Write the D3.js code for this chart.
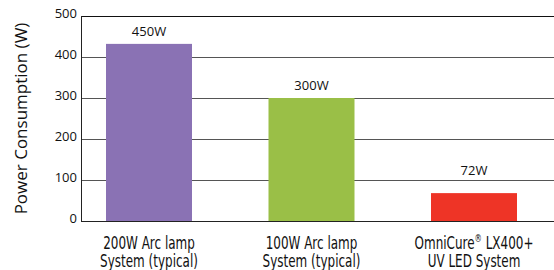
<!DOCTYPE html>
<html>
<head>
<meta charset="utf-8">
<script src="https://cdn.jsdelivr.net/npm/d3@7"></script>
<style>
  body { margin: 0; background: #fff; }
  svg { display: block; }
</style>
</head>
<body>
<div id="chart"></div>
<script>
// values
const categories = ["arc200", "arc100", "lx400"];
const categoryLines = [
  ["200W Arc lamp", "System (typical)"],
  ["100W Arc lamp", "System (typical)"],
  ["OmniCure® LX400+", "UV LED System"]
];
const barValues = [432, 300, 68];
const valueLabels = ["450W", "300W", "72W"];
const barColors = ["#8a72b4", "#9abf47", "#ee3426"];
const yTicks = [0, 100, 200, 300, 400, 500];

const W = 554, H = 270;
const plotL = 81, plotR = 554, plotT = 16, plotB = 221;

const svg = d3.select("#chart").append("svg")
  .attr("width", W)
  .attr("height", H);

const x = d3.scalePoint().domain(categories).range([149, 474]);
const y = d3.scaleLinear().domain([0, 500]).range([plotB, plotT]);
const barW = 86;

// gridlines
svg.append("g")
  .selectAll("line")
  .data(yTicks.filter(d => d > 0))
  .join("line")
  .attr("x1", plotL).attr("x2", plotR)
  .attr("y1", d => y(d) + 0.5).attr("y2", d => y(d) + 0.5)
  .attr("stroke", d => d === 500 ? "#111" : "#555")
  .attr("stroke-width", 1);

// bars
svg.append("g")
  .selectAll("rect")
  .data(barValues)
  .join("rect")
  .attr("x", (d, i) => x(categories[i]) - barW / 2)
  .attr("width", barW)
  .attr("y", d => y(d))
  .attr("height", d => y(0) - y(d))
  .attr("fill", (d, i) => barColors[i]);

// baseline + y axis line
svg.append("line")
  .attr("x1", plotL).attr("x2", plotR)
  .attr("y1", plotB + 0.5).attr("y2", plotB + 0.5)
  .attr("stroke", "#222");
svg.append("line")
  .attr("x1", plotL + 0.5).attr("x2", plotL + 0.5)
  .attr("y1", plotT).attr("y2", plotB + 1)
  .attr("stroke", "#222");

// tick labels
svg.append("g")
  .selectAll("text")
  .data(yTicks)
  .join("text")
  .attr("x", plotL - 4)
  .attr("y", d => y(d) - 1)
  .attr("text-anchor", "end")
  .attr("dominant-baseline", "middle")
  .style("font", "13px 'Open Sans', sans-serif")
  .style("fill", "#111")
  .text(d => d);

// axis title
svg.append("text")
  .attr("transform", `translate(27,${(plotT + plotB) / 2}) rotate(-90)`)
  .attr("text-anchor", "middle")
  .style("font", "17px 'Open Sans', sans-serif")
  .style("fill", "#111")
  .text("Power Consumption (W)");

// value labels (kept above the 100 gridline for short bars)
svg.append("g")
  .selectAll("text")
  .data(valueLabels)
  .join("text")
  .attr("x", (d, i) => x(categories[i]))
  .attr("y", (d, i) => Math.min(y(barValues[i]) - 8, y(100) - 5))
  .attr("text-anchor", "middle")
  .style("font", "13px 'Open Sans', sans-serif")
  .style("fill", "#111")
  .text(d => d);

// category labels, squeezed horizontally to look condensed
const cat = svg.append("g")
  .selectAll("text")
  .data(categoryLines)
  .join("text")
  .attr("transform", (d, i) => `translate(${x(categories[i])},0) scale(0.74,1)`)
  .attr("text-anchor", "middle")
  .style("font", "18px 'DejaVu Sans Condensed', sans-serif")
  .style("fill", "#111");

cat.each(function (lines) {
  const t = d3.select(this);
  lines.forEach((line, j) => {
    const ts = t.append("tspan")
      .attr("x", 0)
      .attr("y", 249 + j * 18);
    if (line.includes("®")) {
      const parts = line.split("®");
      ts.append("tspan").text(parts[0]);
      ts.append("tspan").attr("dy", -7).style("font-size", "11px").text("®");
      ts.append("tspan").attr("dy", 7).text(parts[1]);
    } else {
      ts.text(line);
    }
  });
});
</script>
</body>
</html>
